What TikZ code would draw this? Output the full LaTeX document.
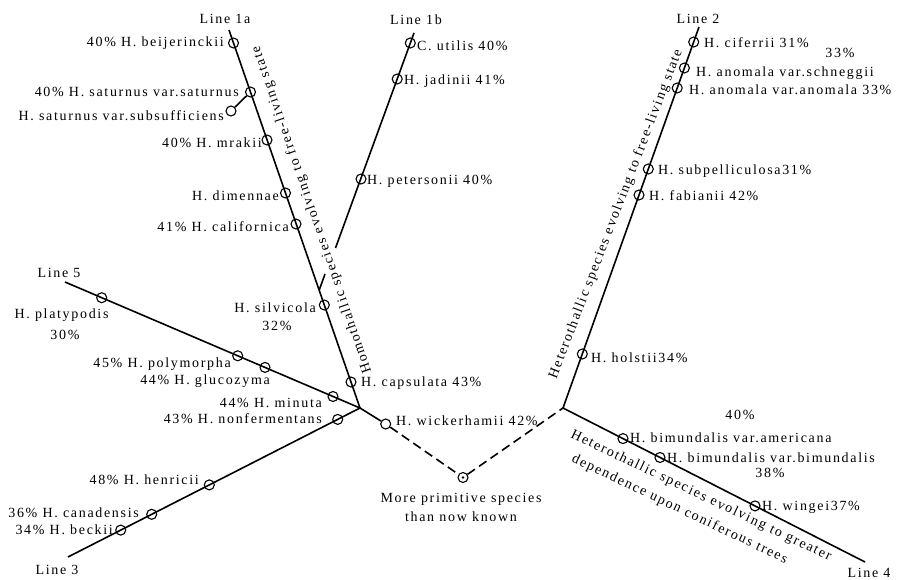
\documentclass[tikz,border=0pt]{standalone}
\usepackage{fontspec}
\setmainfont{Liberation Serif}[LetterSpace=12]
\begin{document}
\begin{tikzpicture}[x=1pt,y=-1pt,
  ln/.style={line width=1.6pt},
  sp/.style={circle,draw,line width=1.1pt,inner sep=0pt,minimum size=10pt},
  txt/.style={font=\fontsize{14}{19}\selectfont,inner sep=0pt},
  lw/.style={txt,anchor=west},
  le/.style={txt,anchor=east}]
\path[use as bounding box] (0,0) rectangle (900,579);
% line end points and junctions
\coordinate (T1a) at (229,30);
\coordinate (J1) at (360,408);
\coordinate (T1b) at (414,33);
\coordinate (B1b) at (335.5,248);
\coordinate (G1b) at (325,274);
\coordinate (M1b) at (319.2,290.1);
\coordinate (T5) at (65,282);
\coordinate (T3) at (68,557);
\coordinate (T2) at (699,27);
\coordinate (J2) at (563,408);
\coordinate (T4) at (865,562);
% species circles
\node[sp] (beij) at (233.5,43) {};
\node[sp] (satsat) at (250.5,92) {};
\node[sp] (subs) at (231,111) {};
\node[sp] (mrak) at (267,140) {};
\node[sp] (dime) at (285.5,193) {};
\node[sp] (cali) at (296,224) {};
\node[sp] (silv) at (324.3,305) {};
\node[sp] (caps) at (351,382) {};
\node[sp] (util) at (410.3,43) {};
\node[sp] (jadi) at (397.2,79) {};
\node[sp] (pete) at (361,179) {};
\node[sp] (plat) at (101.7,297.7) {};
\node[sp] (poly) at (237.7,355.8) {};
\node[sp] (gluc) at (265,367.4) {};
\node[sp] (minu) at (333,396.5) {};
\node[sp] (wick) at (385.7,424) {};
\node[sp] (beck) at (120.7,530.1) {};
\node[sp] (cana) at (151.7,514.3) {};
\node[sp] (henr) at (209.3,484.9) {};
\node[sp] (nonf) at (337.7,419.4) {};
\node[sp] (cife) at (693.7,42) {};
\node[sp] (schn) at (684.4,68) {};
\node[sp] (anom) at (677.2,88) {};
\node[sp] (subp) at (648.3,169) {};
\node[sp] (fabi) at (639,195) {};
\node[sp] (hols) at (582.3,354) {};
\node[sp] (amer) at (623,438.6) {};
\node[sp] (bimu) at (660,457.5) {};
\node[sp] (wing) at (755,505.9) {};
\node[sp] (prim) at (463,477.5) {};
\fill (prim.center) circle (1.3pt);
% lines
\draw[ln] (T1a) -- (J1);
\draw[ln] (T1b) -- (B1b);
\draw[ln] (G1b) -- (M1b);
\draw[ln] (T5) -- (J1) -- (wick);
\draw[ln] (T3) -- (J1);
\draw[ln] (T2) -- (J2) -- (T4);
\draw[ln] (subs) -- (satsat);
\draw[ln,dash pattern=on 9pt off 5pt] (wick) -- (prim) -- (J2);
% line names
\node[txt] (l1a) at (225,19) {Line 1a};
\node[txt] (l1b) at (416,20) {Line 1b};
\node[txt] (l2) at (698,19) {Line 2};
\node[txt] (l5) at (59,273) {Line 5};
\node[txt] (l3) at (57,570) {Line 3};
\node[txt] (l4) at (869,573) {Line 4};
% left labels
\node[le] (tbeij) at (224,43) {40\% H. beijerinckii};
\node[le] (tsat) at (239,92) {40\% H. saturnus var.saturnus};
\node[le] (tsubs) at (224,116) {H. saturnus var.subsufficiens};
\node[le] (tmrak) at (262,143) {40\% H. mrakii};
\node[le] (tdime) at (279,196) {H. dimennae};
\node[le] (tcali) at (289,227) {41\% H. californica};
\node[le] (tsilv) at (316,308) {H. silvicola};
\node[txt] (psilv) at (277,326) {32\%};
\node[le] (tpoly) at (231,364) {45\% H. polymorpha};
\node[le] (tgluc) at (270,381) {44\% H. glucozyma};
\node[le] (tminu) at (322,403) {44\% H. minuta};
\node[le] (tnonf) at (322,419) {43\% H. nonfermentans};
\node[le] (thenr) at (199,480) {48\% H. henricii};
\node[le] (tcana) at (139,513) {36\% H. canadensis};
\node[le] (tbeck) at (113,530) {34\% H. beckii};
\node[txt] (tplat) at (61.5,315) {H. platypodis};
\node[txt] (pplat) at (65,335) {30\%};
% right labels
\node[lw] (tutil) at (417,46) {C. utilis 40\%};
\node[lw] (tjadi) at (404,81) {H. jadinii 41\%};
\node[lw] (tpete) at (367,181) {H. petersonii 40\%};
\node[lw] (tcaps) at (361,383) {H. capsulata 43\%};
\node[lw] (twick) at (396,421) {H. wickerhamii 42\%};
\node[lw] (tcife) at (704,43) {H. ciferrii 31\%};
\node[txt] (pschn) at (840,53) {33\%};
\node[lw] (tschn) at (696,73) {H. anomala var.schneggii};
\node[lw] (tanom) at (689,90) {H. anomala var.anomala 33\%};
\node[lw] (tsubp) at (658,171) {H. subpelliculosa31\%};
\node[lw] (tfabi) at (649,196) {H. fabianii 42\%};
\node[lw] (thols) at (591,358) {H. holstii34\%};
\node[txt] (pamer) at (740,415) {40\%};
\node[lw] (tamer) at (630,438) {H. bimundalis var.americana};
\node[lw] (tbimu) at (667,458) {H. bimundalis var.bimundalis};
\node[txt] (pbimu) at (770,473) {38\%};
\node[lw] (twing) at (762,507) {H. wingei37\%};
\node[txt,align=center] (tprim) at (461,507) {More primitive species\\than now known};
% rotated line texts
\node[txt,rotate=109] (homo) at (312,210) {Homothallic species evolving to free-living state};
\node[txt,rotate=69] (hetA) at (616,214) {Heterothallic species evolving to free-living state};
\node[txt,rotate=-25.5] (hetB) at (701,496) {Heterothallic species evolving to greater};
\node[txt,rotate=-25.5] (hetC) at (679.6,509.4) {dependence upon coniferous trees};
\end{tikzpicture}
\end{document}
